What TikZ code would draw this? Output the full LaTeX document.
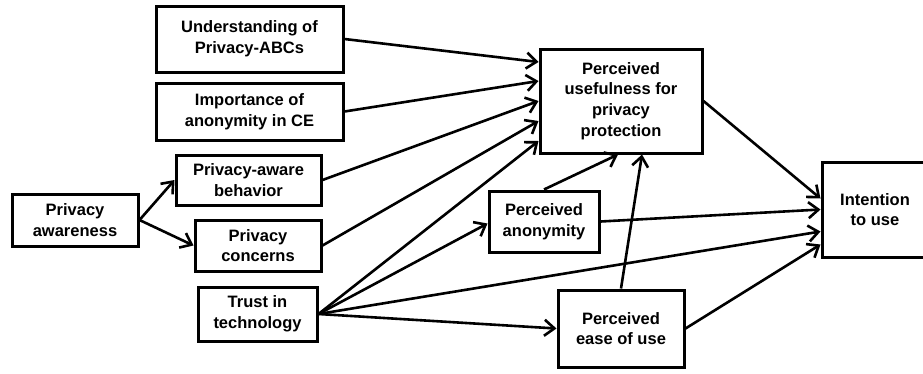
\documentclass[tikz,border=0pt]{standalone}
\usepackage{fontspec}
\setmainfont{Liberation Sans}
\usetikzlibrary{arrows.meta}

\begin{document}
\begin{tikzpicture}
  [
    x=1pt,
    y=-1pt,
    box/.style={
      draw,
      line width=3pt,
      align=center,
      inner sep=0pt,
      font=\fontsize{16.5}{20.7}\selectfont\bfseries
    },
    link/.style={
      line width=2.6pt,
      -{Straight Barb[length=10pt,width=16pt]}
    }
  ]

  \clip (0,0) rectangle (923,373);

  % constructs
  \node [box, minimum width=187pt, minimum height=66pt] (und) at (249.5,39) {Understanding of\\Privacy-ABCs};
  \node [box, minimum width=187pt, minimum height=57pt] (imp) at (249.5,111.5) {Importance of\\anonymity in CE};
  \node [box, minimum width=145pt, minimum height=50pt] (pab) at (248.5,180) {Privacy-aware\\behavior};
  \node [box, minimum width=126pt, minimum height=52pt] (paw) at (75,220) {Privacy\\awareness};
  \node [box, minimum width=126pt, minimum height=51pt] (pc) at (258,245.5) {Privacy\\concerns};
  \node [box, minimum width=119pt, minimum height=54pt] (trust) at (257.5,314) {Trust in\\technology};
  \node [box, minimum width=162pt, minimum height=104pt] (pu) at (621,101) {Perceived\\usefulness for\\privacy\\protection};
  \node [box, minimum width=110pt, minimum height=61pt] (pan) at (544,221.5) {Perceived\\anonymity};
  \node [box, minimum width=126pt, minimum height=77pt] (peou) at (621,328.5) {Perceived\\ease of use};
  \node [box, minimum width=106pt, minimum height=95pt] (int) at (875,209.5) {Intention\\to use};

  % paths into usefulness
  \foreach \src/\dy in {und/39,imp/20,pab/0,pc/-20,trust/-40} {
    \draw [link] (\src.east) -- ([yshift=\dy pt]pu.west);
  }
  \draw [link] (pan.north) -- ([xshift=-3pt]pu.south);
  \draw [link] (peou.north) -- ([xshift=21pt]pu.south);

  % paths from awareness and trust
  \draw [link] (paw.east) -- (pab.west);
  \draw [link] (paw.east) -- (pc.west);
  \draw [link] (trust.east) -- ([yshift=-2pt]pan.west);
  \draw [link] (trust.east) -- (peou.west);

  % paths into intention
  \foreach \src/\dy in {pu/11,pan/0,trust/-22,peou/-35} {
    \draw [link] (\src.east) -- ([yshift=\dy pt]int.west);
  }
  \end{tikzpicture}
\end{document}
